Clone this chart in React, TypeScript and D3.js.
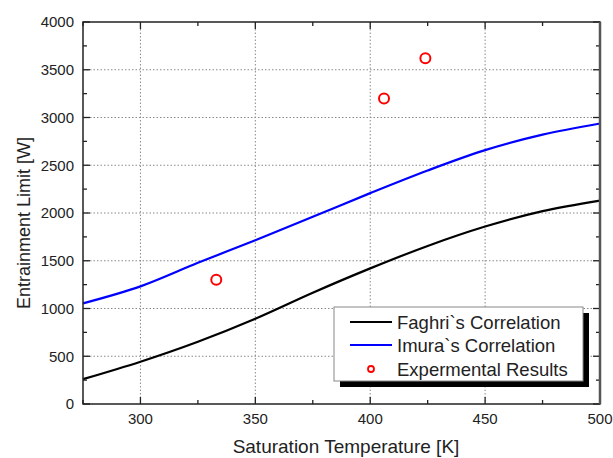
import React from "react";
import * as d3 from "d3";

// Saturation temperature samples [K] and entrainment limits [W]
const faghriT = [275, 300, 325, 350, 375, 400, 425, 450, 475, 500];
const faghriQ = [260, 443, 652, 893, 1165, 1420, 1655, 1858, 2020, 2130];

const imuraT = [275, 300, 325, 350, 375, 400, 425, 450, 475, 500];
const imuraQ = [1054, 1232, 1478, 1715, 1960, 2208, 2445, 2658, 2820, 2937];

const expT = [333, 406, 424];
const expQ = [1300, 3200, 3620];

const xMajor = [300, 350, 400, 450, 500];
const xMinor = [275, 325, 375, 425, 475];
const yMajor = [0, 500, 1000, 1500, 2000, 2500, 3000, 3500, 4000];
const yMinor = [250, 750, 1250, 1750, 2250, 2750, 3250, 3750];

const legendLabels = ["Faghri`s Correlation", "Imura`s Correlation", "Expermental Results"];

const W = 613;
const H = 458;
const M = { left: 83, right: 600, top: 22, bottom: 404 };
const FONT = "'Liberation Sans', Arial, sans-serif";
const TEXT = "#222";

export default function App() {
  const x = d3.scaleLinear().domain([275, 500]).range([M.left, M.right]);
  const y = d3.scaleLinear().domain([0, 4000]).range([M.bottom, M.top]);

  const line = d3
    .line<[number, number]>()
    .x((d) => x(d[0]))
    .y((d) => y(d[1]))
    .curve(d3.curveCatmullRom.alpha(0.5));

  const faghri = faghriT.map((t, i) => [t, faghriQ[i]] as [number, number]);
  const imura = imuraT.map((t, i) => [t, imuraQ[i]] as [number, number]);

  const lg = { x: 334, y: 307, w: 249, h: 74 };
  const rowY = [322, 345, 369];

  return (
    <svg width={W} height={H} style={{ position: "absolute", left: 0, top: 0, background: "#fff" }}>
      <rect x={0} y={0} width={W} height={H} fill="#fff" />
      {/* grid */}
      <g stroke="#8a8a8a" strokeWidth={1} strokeDasharray="1.5,2">
        {xMajor.filter((v) => v < 500).map((v) => (
          <line key={"gx" + v} x1={x(v)} x2={x(v)} y1={M.top} y2={M.bottom} />
        ))}
        {yMajor.filter((v) => v > 0 && v < 4000).map((v) => (
          <line key={"gy" + v} x1={M.left} x2={M.right} y1={y(v)} y2={y(v)} />
        ))}
      </g>

      {/* curves */}
      <path d={line(faghri) || ""} fill="none" stroke="#000" strokeWidth={2.2} />
      <path d={line(imura) || ""} fill="none" stroke="#0000ff" strokeWidth={2.2} />

      {/* experimental points */}
      {expT.map((t, i) => (
        <circle key={"e" + i} cx={x(t)} cy={y(expQ[i])} r={5} fill="none" stroke="#ff0000" strokeWidth={2} />
      ))}

      {/* ticks */}
      <g stroke="#222" strokeWidth={1.3}>
        {xMajor.map((v) => (
          <g key={"xt" + v}>
            <line x1={x(v)} x2={x(v)} y1={M.bottom} y2={M.bottom - 7} />
            <line x1={x(v)} x2={x(v)} y1={M.top} y2={M.top + 7} />
          </g>
        ))}
        {xMinor.map((v) => (
          <g key={"xm" + v}>
            <line x1={x(v)} x2={x(v)} y1={M.bottom} y2={M.bottom - 4} />
            <line x1={x(v)} x2={x(v)} y1={M.top} y2={M.top + 4} />
          </g>
        ))}
        {yMajor.map((v) => (
          <g key={"yt" + v}>
            <line x1={M.left} x2={M.left + 7} y1={y(v)} y2={y(v)} />
            <line x1={M.right} x2={M.right - 7} y1={y(v)} y2={y(v)} />
          </g>
        ))}
        {yMinor.map((v) => (
          <g key={"ym" + v}>
            <line x1={M.left} x2={M.left + 4} y1={y(v)} y2={y(v)} />
            <line x1={M.right} x2={M.right - 4} y1={y(v)} y2={y(v)} />
          </g>
        ))}
      </g>

      {/* frame */}
      <rect x={M.left} y={M.top} width={M.right - M.left} height={M.bottom - M.top} fill="none" stroke="#222" strokeWidth={1.5} />
      <line x1={M.right} x2={M.right} y1={M.top} y2={M.bottom} stroke="#555" strokeWidth={2.5} />

      {/* tick labels */}
      <g fontFamily={FONT} fontSize={15} fill={TEXT}>
        {xMajor.map((v) => (
          <text key={"xl" + v} x={x(v)} y={M.bottom + 20} textAnchor="middle">
            {v}
          </text>
        ))}
        {yMajor.map((v) => (
          <text key={"yl" + v} x={M.left - 9} y={y(v) + 5.3} textAnchor="end">
            {v}
          </text>
        ))}
      </g>

      {/* axis titles */}
      <text x={346} y={453} textAnchor="middle" fontFamily={FONT} fontSize={19} fill={TEXT}>
        Saturation Temperature [K]
      </text>
      <text
        transform={`translate(30,223) rotate(-90)`}
        textAnchor="middle"
        fontFamily={FONT}
        fontSize={18}
        fill={TEXT}
      >
        Entrainment Limit [W]
      </text>

      {/* legend */}
      <rect x={lg.x + 6} y={lg.y + 6} width={lg.w} height={lg.h} fill="#000" />
      <rect x={lg.x} y={lg.y} width={lg.w} height={lg.h} fill="#fff" stroke="#888" strokeWidth={1} />
      <line x1={350} x2={392} y1={rowY[0]} y2={rowY[0]} stroke="#000" strokeWidth={2.2} />
      <line x1={350} x2={392} y1={rowY[1]} y2={rowY[1]} stroke="#0000ff" strokeWidth={2.2} />
      <circle cx={371} cy={rowY[2]} r={3} fill="none" stroke="#ff0000" strokeWidth={1.8} />
      <g fontFamily={FONT} fontSize={18.5} fill={TEXT}>
        {legendLabels.map((l, i) => (
          <text key={l} x={397} y={rowY[i] + 6.6}>
            {l}
          </text>
        ))}
      </g>
    </svg>
  );
}
